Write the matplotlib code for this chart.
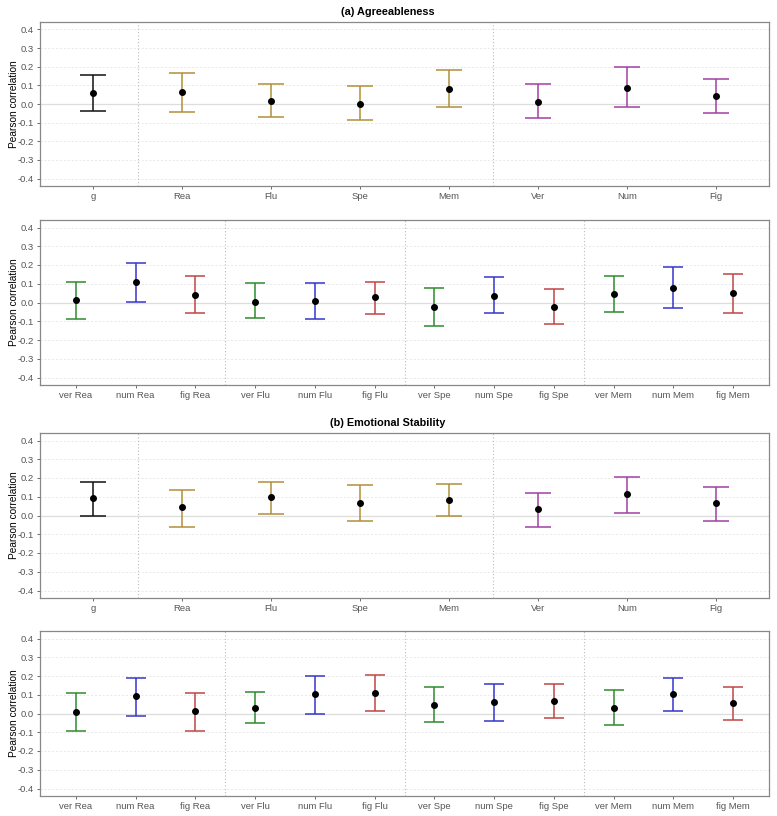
import matplotlib
matplotlib.use("Agg")
import matplotlib.pyplot as plt

plt.rcParams['font.family'] = ['Liberation Sans', 'DejaVu Sans']

# categories
broad_labels = ["g", "Rea", "Flu", "Spe", "Mem", "Ver", "Num", "Fig"]
narrow_labels = ["ver Rea", "num Rea", "fig Rea", "ver Flu", "num Flu", "fig Flu",
                 "ver Spe", "num Spe", "fig Spe", "ver Mem", "num Mem", "fig Mem"]

# (a) Agreeableness - broad abilities
agr_broad_r = [0.057, 0.066, 0.018, 0.002, 0.078, 0.012, 0.087, 0.041]
agr_broad_lo = [-0.039, -0.041, -0.071, -0.087, -0.016, -0.077, -0.016, -0.050]
agr_broad_hi = [0.153, 0.168, 0.109, 0.094, 0.180, 0.109, 0.196, 0.136]

# (a) Agreeableness - narrow abilities
agr_narrow_r = [0.011, 0.107, 0.041, 0.004, 0.007, 0.027,
                -0.025, 0.036, -0.025, 0.046, 0.080, 0.052]
agr_narrow_lo = [-0.086, 0.005, -0.054, -0.082, -0.089, -0.059,
                 -0.123, -0.054, -0.114, -0.048, -0.027, -0.054]
agr_narrow_hi = [0.107, 0.209, 0.139, 0.104, 0.105, 0.111,
                 0.080, 0.134, 0.073, 0.141, 0.191, 0.150]

# (b) Emotional Stability - broad abilities
emo_broad_r = [0.092, 0.046, 0.099, 0.069, 0.083, 0.034, 0.114, 0.066]
emo_broad_lo = [-0.002, -0.059, 0.009, -0.027, -0.004, -0.062, 0.016, -0.027]
emo_broad_hi = [0.179, 0.137, 0.181, 0.163, 0.169, 0.121, 0.206, 0.153]

# (b) Emotional Stability - narrow abilities
emo_narrow_r = [0.009, 0.091, 0.011, 0.032, 0.103, 0.110,
                0.044, 0.060, 0.066, 0.032, 0.105, 0.055]
emo_narrow_lo = [-0.094, -0.012, -0.092, -0.053, 0.000, 0.016,
                 -0.046, -0.041, -0.025, -0.059, 0.011, -0.037]
emo_narrow_hi = [0.112, 0.192, 0.110, 0.116, 0.201, 0.203,
                 0.139, 0.158, 0.155, 0.123, 0.190, 0.142]

# colours
c_g = "#111111"
c_gold = "#B0903A"
c_purple = "#A040A0"
c_green = "#2E8B2E"
c_blue = "#3535CC"
c_red = "#C04545"
broad_colors = [c_g] + [c_gold] * 4 + [c_purple] * 3
narrow_colors = [c_green, c_blue, c_red] * 4

W, H = 777, 816
fig = plt.figure(figsize=(W / 100, H / 100), dpi=100)

left = 40 / W
width = 729 / W
panels = [(22, 186), (220, 385), (433, 598), (631, 796)]


def make_ax(top_px, bot_px):
    return fig.add_axes([left, 1 - bot_px / H, width, (bot_px - top_px) / H])


def draw_panel(ax, labels, r, lo, hi, colors, seps, capsize):
    xs = list(range(1, len(labels) + 1))
    ax.axhline(0, color="#DDDDDD", lw=0.9, zorder=1)
    for s in seps:
        ax.axvline(s, color="#BBBBBB", lw=0.8, ls=(0, (1, 2)), zorder=1)
    for x, m, l, h, c in zip(xs, r, lo, hi, colors):
        ax.errorbar([x], [m], yerr=[[m - l], [h - m]], fmt="none", ecolor=c,
                    elinewidth=1.1, capsize=capsize, capthick=1.1, zorder=2)
    ax.plot(xs, r, "o", color="black", ms=4, zorder=3)
    ax.set_xlim(0.4, len(labels) + 0.6)
    ax.set_ylim(-0.44, 0.44)
    ax.set_yticks([-0.4, -0.3, -0.2, -0.1, 0.0, 0.1, 0.2, 0.3, 0.4])
    ax.set_yticklabels(["%.1f" % v for v in ax.get_yticks()])
    ax.set_xticks(xs)
    ax.set_xticklabels(labels)
    ax.yaxis.grid(True, color="#E8E8E8", lw=0.7, ls=(0, (2, 2)))
    ax.set_axisbelow(True)
    ax.tick_params(axis="both", labelsize=6.8, colors="#555555", length=2.5,
                   width=0.6, pad=2)
    ax.set_ylabel("Pearson correlation", fontsize=7.3, color="black", labelpad=-1)
    for sp in ax.spines.values():
        sp.set_color("#888888")
        sp.set_linewidth(0.9)


title_x = (388 - 40) / 729

ax1 = make_ax(*panels[0])
draw_panel(ax1, broad_labels, agr_broad_r, agr_broad_lo, agr_broad_hi,
           broad_colors, [1.5, 5.5], 9.5)
ax1.set_title("(a) Agreeableness", fontsize=7.8, fontweight="bold", pad=5, x=title_x)

ax2 = make_ax(*panels[1])
draw_panel(ax2, narrow_labels, agr_narrow_r, agr_narrow_lo, agr_narrow_hi,
           narrow_colors, [3.5, 6.5, 9.5], 7.2)

ax3 = make_ax(*panels[2])
draw_panel(ax3, broad_labels, emo_broad_r, emo_broad_lo, emo_broad_hi,
           broad_colors, [1.5, 5.5], 9.5)
ax3.set_title("(b) Emotional Stability", fontsize=7.8, fontweight="bold", pad=5, x=title_x)

ax4 = make_ax(*panels[3])
draw_panel(ax4, narrow_labels, emo_narrow_r, emo_narrow_lo, emo_narrow_hi,
           narrow_colors, [3.5, 6.5, 9.5], 7.2)

fig.savefig("out.png", dpi=100)
